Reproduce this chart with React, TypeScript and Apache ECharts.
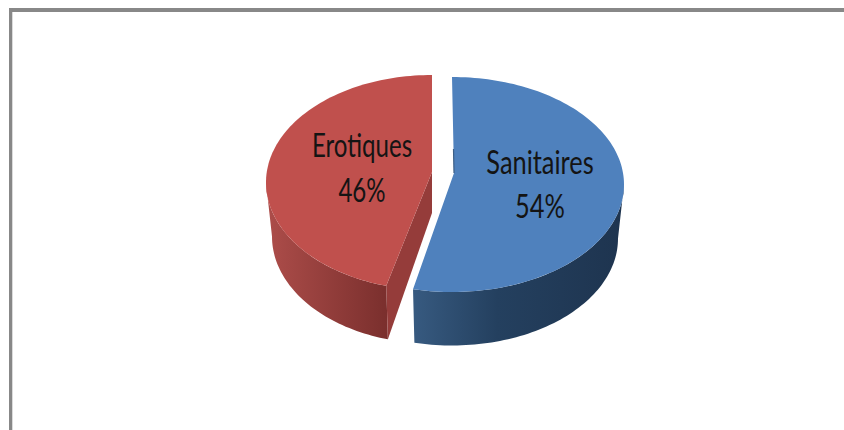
import React, { useEffect, useRef } from "react";
import * as echarts from "echarts";

const categories = ["Sanitaires", "Erotiques"];
const values = [54, 46];
const percentLabels = ["54%", "46%"];

const FACE = ["#4f81bd", "#c0504d"];
const WALL = [
  [[0, "#375a80"], [0.4, "#24405f"], [1, "#1e344f"]],
  [[0, "#ad4d4a"], [1, "#7a2f2d"]],
];
const CUT = "#953c3a";

// Geometry of each exploded slice on the page.
const GEO = [
  { ex: 452, ey: 184.5, rx: 172, ry: 107.5, rxB: 166, ryB: 107, depth: 54, ax: 454, ay: 173, apexDepth: 41, trim: -1.3, labelX: 540, labelY: 161, lineGap: 44, sx: 0.77 },
  { ex: 432, ey: 182.5, rx: 166, ry: 107.5, rxB: 160, ryB: 107, depth: 54, ax: 432, ay: 172, apexDepth: 41, trim: 1.6, labelX: 362, labelY: 144, lineGap: 45, sx: 0.73 },
];

function App() {
  const ref = useRef<HTMLDivElement>(null);
  useEffect(() => {
    document.body.style.margin = "0";
    const chart = echarts.init(ref.current!, undefined, { renderer: "svg" });
    const total = values.reduce((a, b) => a + b, 0);
    const renderItem = (params: any) => {
      const i = params.dataIndex;
      const g = GEO[i];
      const before = values.slice(0, i).reduce((a, b) => a + b, 0);
      let start = (before / total) * 360;
      let end = ((before + values[i]) / total) * 360;
      if (i === 0) end += g.trim; else start += g.trim;
      const top = (d: number) => {
        const t = (d * Math.PI) / 180;
        return [g.ex + g.rx * Math.sin(t), g.ey - g.ry * Math.cos(t)];
      };
      const bot = (d: number) => {
        const t = (d * Math.PI) / 180;
        return [g.ex + g.rxB * Math.sin(t), g.ey + g.depth - g.ryB * Math.cos(t)];
      };
      const arc = (fn: (d: number) => number[], a: number, b: number) => {
        const n = Math.max(8, Math.round(Math.abs(b - a) / 1.5));
        const pts: number[][] = [];
        for (let k = 0; k <= n; k++) pts.push(fn(a + ((b - a) * k) / n));
        return pts;
      };
      const wallFrom = i === 0 ? 90 : start;
      const wallTo = i === 0 ? end : 270;
      const children: any[] = [];
      children.push({
        type: "polygon",
        shape: { points: [...arc(top, wallFrom, wallTo), ...arc(bot, wallTo, wallFrom)] },
        style: {
          fill: new echarts.graphic.LinearGradient(0, 0, 1, 0,
            WALL[i].map(([offset, color]) => ({ offset: offset as number, color: color as string }))),
        },
      });
      if (i === 1) {
        children.push({
          type: "polygon",
          shape: { points: [[g.ax, g.ay], top(start), bot(start), [g.ax, g.ay + g.apexDepth]] },
          style: { fill: CUT },
        });
      }
      children.push({
        type: "polygon",
        shape: { points: [[g.ax, g.ay], ...arc(top, start, end)] },
        style: { fill: FACE[i] },
      });
      if (i === 0) {
        children.push({
          type: "line",
          shape: { x1: g.ax - 0.5, y1: g.ay - 24, x2: g.ax, y2: g.ay },
          style: { stroke: "#3d5f86", lineWidth: 1.2 },
        });
      }
      const text = (s: string, y: number) => ({
        type: "text",
        x: g.labelX,
        y,
        scaleX: g.sx,
        style: {
          text: s,
          fill: "#141414",
          font: "33px Lato",
          textAlign: "center",
          textVerticalAlign: "middle",
        },
      });
      children.push(text(categories[i], g.labelY));
      children.push(text(percentLabels[i], g.labelY + g.lineGap));
      return { type: "group", children };
    };
    chart.setOption({
      animation: false,
      backgroundColor: "#ffffff",
      graphic: [
        { type: "rect", shape: { x: 9, y: 8, width: 835, height: 4 }, style: { fill: "#888888" }, silent: true },
        { type: "rect", shape: { x: 9, y: 8, width: 3.3, height: 422 }, style: { fill: "#888888" }, silent: true },
      ],
      series: [
        {
          type: "custom",
          coordinateSystem: "none",
          renderItem,
          data: categories.map((name, i) => ({ name, value: values[i] })),
        },
      ],
    });
    return () => chart.dispose();
  }, []);
  return <div ref={ref} style={{ width: 844, height: 430 }} />;
}

export default App;
